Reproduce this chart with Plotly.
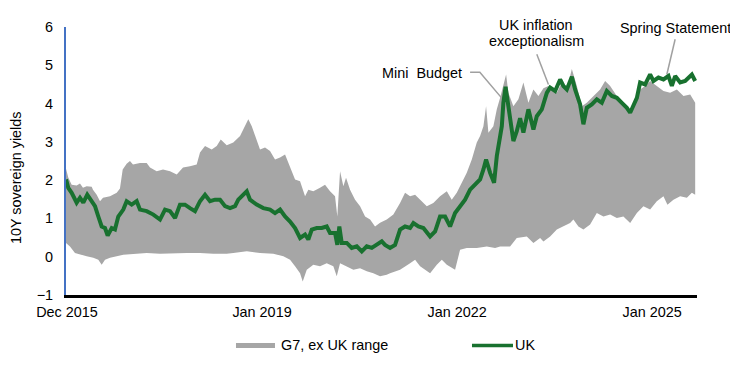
import plotly.graph_objects as go
import pandas as pd

# ---- data (decimal years, yields in %) ----
upper_t = [2015.985, 2016.02, 2016.072, 2016.149, 2016.2, 2016.246, 2016.303, 2016.38, 2016.4, 2016.457,
           2016.508, 2016.554, 2016.662, 2016.765, 2016.815, 2016.857, 2016.918, 2016.969, 2017.015, 2017.123,
           2017.226, 2017.277, 2017.38, 2017.477, 2017.585, 2017.688, 2017.785, 2017.892, 2017.995, 2018.046,
           2018.123, 2018.226, 2018.303, 2018.365, 2018.457, 2018.558, 2018.662, 2018.738, 2018.789, 2018.842,
           2018.892, 2018.969, 2019.046, 2019.123, 2019.2, 2019.277, 2019.354, 2019.431, 2019.508, 2019.585,
           2019.662, 2019.712, 2019.789, 2019.892, 2019.969, 2020.046, 2020.123, 2020.158, 2020.2, 2020.251,
           2020.292, 2020.354, 2020.431, 2020.508, 2020.585, 2020.662, 2020.738, 2020.815, 2020.918, 2021.02,
           2021.123, 2021.2, 2021.277, 2021.354, 2021.431, 2021.534, 2021.635, 2021.738, 2021.842, 2021.918,
           2021.995, 2022.072, 2022.149, 2022.226, 2022.303, 2022.354, 2022.405, 2022.446, 2022.482, 2022.558,
           2022.611, 2022.662, 2022.712, 2022.754, 2022.789, 2022.866, 2022.943, 2023.02, 2023.097, 2023.174,
           2023.251, 2023.328, 2023.405, 2023.431, 2023.534, 2023.611, 2023.688, 2023.765, 2023.842, 2023.918,
           2023.995, 2024.097, 2024.2, 2024.277, 2024.354, 2024.457, 2024.558, 2024.662, 2024.738, 2024.815,
           2024.892, 2024.969, 2025.072, 2025.174, 2025.277, 2025.38, 2025.482, 2025.585, 2025.662]
upper_v = [2.3, 2.07, 1.88, 1.86, 1.91, 1.8, 1.84, 1.83, 1.75, 1.62,
           1.45, 1.54, 1.58, 1.67, 1.78, 2.28, 2.43, 2.5, 2.41, 2.45,
           2.45, 2.33, 2.23, 2.28, 2.23, 2.15, 2.33, 2.36, 2.41, 2.72,
           2.89, 2.8, 2.89, 3.06, 2.91, 2.98, 3.15, 3.41, 3.59, 3.41,
           3.19, 2.8, 2.85, 2.76, 2.54, 2.59, 2.67, 2.36, 2.02, 1.97,
           1.58, 1.75, 1.71, 1.8, 1.88, 1.71, 1.58, 1.05, 2.23, 1.84,
           2.06, 1.75, 1.49, 1.32, 1.05, 0.97, 0.79, 0.89, 0.97, 1.1,
           1.4, 1.67, 1.58, 1.62, 1.49, 1.32, 1.4, 1.58, 1.71, 1.49,
           1.67, 1.93, 2.19, 2.54, 2.98, 3.15, 3.41, 3.93, 3.24, 3.41,
           3.85, 4.15, 4.46, 4.76, 4.28, 3.93, 4.11, 4.55, 4.02, 4.37,
           4.2, 4.4, 4.46, 4.37, 4.28, 4.55, 4.37, 4.9, 4.46, 3.93,
           4.02, 4.2, 4.37, 4.59, 4.46, 4.2, 3.98, 3.8, 4.11, 4.37,
           4.46, 4.59, 4.46, 4.33, 4.28, 4.37, 4.2, 4.24, 4.02]

lower_t = [2015.985, 2016.046, 2016.123, 2016.2, 2016.303, 2016.405, 2016.482, 2016.534, 2016.585, 2016.662,
           2016.765, 2016.866, 2017.02, 2017.226, 2017.431, 2017.635, 2017.842, 2018.046, 2018.251, 2018.457,
           2018.558, 2018.765, 2018.969, 2019.174, 2019.328, 2019.431, 2019.508, 2019.585, 2019.626, 2019.688,
           2019.789, 2019.892, 2019.995, 2020.097, 2020.149, 2020.2, 2020.303, 2020.405, 2020.508, 2020.611,
           2020.712, 2020.815, 2020.918, 2020.969, 2021.123, 2021.277, 2021.354, 2021.431, 2021.585, 2021.688,
           2021.765, 2021.842, 2021.969, 2022.046, 2022.149, 2022.303, 2022.457, 2022.585, 2022.662, 2022.815,
           2022.918, 2023.072, 2023.174, 2023.277, 2023.328, 2023.431, 2023.534, 2023.635, 2023.738, 2023.789,
           2023.866, 2023.943, 2024.046, 2024.149, 2024.251, 2024.354, 2024.457, 2024.558, 2024.662, 2024.765,
           2024.866, 2024.969, 2025.072, 2025.174, 2025.235, 2025.328, 2025.431, 2025.534, 2025.611, 2025.662]
lower_v = [0.36, 0.27, 0.1, 0.05, 0.01, -0.03, -0.08, -0.21, -0.08, -0.03,
           0.01, 0.05, 0.08, 0.1, 0.08, 0.08, 0.1, 0.1, 0.08, 0.08,
           0.1, 0.14, 0.1, 0.08, 0.01, -0.08, -0.25, -0.43, -0.65, -0.34,
           -0.21, -0.25, -0.17, -0.25, -0.51, -0.17, -0.25, -0.34, -0.3, -0.38,
           -0.43, -0.51, -0.47, -0.43, -0.34, -0.17, -0.08, -0.25, -0.43, -0.21,
           -0.08, -0.21, -0.34, 0.18, 0.23, 0.23, 0.27, 0.23, 0.27, 0.27,
           0.49, 0.53, 0.36, 0.49, 0.4, 0.53, 0.71, 0.79, 0.88, 0.97,
           0.79, 0.71, 0.84, 1.14, 1.05, 1.1, 1.01, 1.05, 0.88, 1.14,
           1.32, 1.23, 1.45, 1.58, 1.36, 1.49, 1.58, 1.54, 1.67, 1.62]

uk_t = [2015.985, 2016.02, 2016.072, 2016.149, 2016.2, 2016.251, 2016.312, 2016.38, 2016.431, 2016.482,
        2016.534, 2016.585, 2016.626, 2016.688, 2016.738, 2016.789, 2016.866, 2016.918, 2016.995, 2017.072,
        2017.123, 2017.226, 2017.328, 2017.431, 2017.508, 2017.585, 2017.662, 2017.738, 2017.815, 2017.892,
        2017.969, 2018.046, 2018.123, 2018.2, 2018.277, 2018.354, 2018.431, 2018.508, 2018.585, 2018.635,
        2018.712, 2018.765, 2018.815, 2018.918, 2019.02, 2019.123, 2019.2, 2019.277, 2019.354, 2019.431,
        2019.508, 2019.585, 2019.662, 2019.712, 2019.765, 2019.842, 2019.918, 2019.995, 2020.046, 2020.123,
        2020.158, 2020.189, 2020.226, 2020.303, 2020.38, 2020.457, 2020.534, 2020.611, 2020.688, 2020.765,
        2020.842, 2020.892, 2020.969, 2021.046, 2021.123, 2021.2, 2021.277, 2021.328, 2021.405, 2021.482,
        2021.585, 2021.662, 2021.738, 2021.815, 2021.892, 2021.969, 2022.046, 2022.123, 2022.2, 2022.277,
        2022.354, 2022.405, 2022.446, 2022.508, 2022.569, 2022.611, 2022.651, 2022.688, 2022.712, 2022.746,
        2022.789, 2022.826, 2022.866, 2022.918, 2022.969, 2023.02, 2023.097, 2023.174, 2023.226, 2023.303,
        2023.38, 2023.431, 2023.508, 2023.585, 2023.635, 2023.688, 2023.765, 2023.815, 2023.892, 2023.943,
        2023.995, 2024.072, 2024.149, 2024.226, 2024.303, 2024.38, 2024.457, 2024.534, 2024.611, 2024.662,
        2024.712, 2024.765, 2024.815, 2024.892, 2024.969, 2025.02, 2025.097, 2025.174, 2025.251, 2025.303,
        2025.354, 2025.431, 2025.508, 2025.558, 2025.611, 2025.662]
uk_v = [2.02, 1.8, 1.67, 1.41, 1.54, 1.41, 1.62, 1.45, 1.32, 1.05,
        0.79, 0.75, 0.55, 0.75, 0.71, 1.05, 1.23, 1.45, 1.36, 1.45,
        1.23, 1.19, 1.1, 0.97, 1.23, 1.19, 1.01, 1.36, 1.36, 1.27,
        1.19, 1.45, 1.62, 1.45, 1.49, 1.49, 1.32, 1.27, 1.32, 1.49,
        1.62, 1.71, 1.49, 1.36, 1.27, 1.23, 1.14, 1.23, 1.05, 0.92,
        0.75, 0.49, 0.58, 0.45, 0.71, 0.75, 0.75, 0.79, 0.62, 0.62,
        0.31, 0.79, 0.36, 0.36, 0.23, 0.27, 0.14, 0.27, 0.23, 0.31,
        0.4, 0.31, 0.23, 0.31, 0.71, 0.79, 0.75, 0.88, 0.79, 0.75,
        0.53, 0.66, 1.05, 1.05, 0.79, 1.14, 1.32, 1.49, 1.75, 1.88,
        2.02, 2.28, 2.54, 2.19, 1.93, 2.63, 3.06, 3.41, 4.02, 4.44,
        3.93, 3.41, 3.02, 3.28, 3.62, 3.24, 3.85, 3.32, 3.67, 3.85,
        4.28, 4.42, 4.33, 4.63, 4.46, 4.37, 4.7, 4.37, 3.98, 3.46,
        3.89, 3.98, 4.11, 4.02, 4.33, 4.2, 4.15, 4.02, 3.89, 3.76,
        3.93, 4.15, 4.55, 4.5, 4.76, 4.59, 4.68, 4.63, 4.72, 4.46,
        4.72, 4.55, 4.59, 4.68, 4.76, 4.59]

tick_years = [2016.0, 2019.0, 2022.0, 2025.0]
tick_text = ["Dec 2015", "Jan 2019", "Jan 2022", "Jan 2025"]
series_names = ["G7, ex UK range", "UK"]
y_title = "10Y sovereign yields"

# annotation texts: (text, x year, y value, xanchor, pixel shift up)
notes = [("Mini  Budget", 2022.1, 4.81, "right", 0),
         ("UK inflation", 2023.218, 5.64, "center", 15.7),
         ("exceptionalism", 2023.218, 5.64, "center", 0),
         ("Spring Statement", 2025.362, 5.97, "center", 0)]
# connector polylines (year, value)
connectors = [([2022.2, 2022.35, 2022.723], [4.82, 4.82, 4.07]),
              ([2023.226, 2023.405], [5.29, 4.5]),
              ([2025.354, 2025.226], [5.68, 4.76])]


def to_date(ts):
    base = pd.Timestamp("2016-01-01")
    return [base + pd.Timedelta(days=(t - 2016.0) * 365.25) for t in ts]


GREY = "#A6A6A6"
GREEN = "#18712F"
FONT = "Liberation Sans, Arial, sans-serif"
FS = 14.4

fig = go.Figure()
fig.add_trace(go.Scatter(
    x=to_date(upper_t + lower_t[::-1]), y=upper_v + lower_v[::-1],
    fill="toself", fillcolor=GREY, mode="lines", line=dict(width=0, color=GREY),
    name=series_names[0], hoverinfo="skip", showlegend=False))
for cx, cy in connectors:
    fig.add_trace(go.Scatter(x=to_date(cx), y=cy, mode="lines",
                             line=dict(color="#A0A0A0", width=1.5),
                             showlegend=False, hoverinfo="skip", cliponaxis=False))
fig.add_trace(go.Scatter(x=to_date(uk_t), y=uk_v, mode="lines",
                         line=dict(color=GREEN, width=4), name=series_names[1],
                         showlegend=False))

for text, xv, yv, anchor, shift in notes:
    fig.add_annotation(x=to_date([xv])[0], y=yv, xref="x", yref="y", text=text,
                       showarrow=False, xanchor=anchor, yanchor="middle", yshift=shift,
                       font=dict(family=FONT, size=FS, color="#000000"))

# y-axis title
fig.add_annotation(x=-0.0792, y=0.4366, xref="paper", yref="paper", text=y_title,
                   textangle=-90, showarrow=False, xanchor="center", yanchor="middle",
                   font=dict(family=FONT, size=FS, color="#000000"))

# custom legend (paper coordinates, below plot)
LEG_Y = -0.1884
fig.add_shape(type="rect", xref="paper", yref="paper", x0=0.2694, x1=0.3312,
              y0=LEG_Y - 0.0095, y1=LEG_Y + 0.0095, fillcolor=GREY, line=dict(width=0))
fig.add_annotation(x=0.3375, y=LEG_Y, xref="paper", yref="paper", text=series_names[0],
                   showarrow=False, xanchor="left", yanchor="middle",
                   font=dict(family=FONT, size=FS, color="#000000"))
fig.add_shape(type="line", xref="paper", yref="paper", x0=0.6434, x1=0.7084,
              y0=LEG_Y, y1=LEG_Y, line=dict(color=GREEN, width=3.5))
fig.add_annotation(x=0.7085, y=LEG_Y, xref="paper", yref="paper", text=series_names[1],
                   showarrow=False, xanchor="left", yanchor="middle",
                   font=dict(family=FONT, size=FS, color="#000000"))

fig.update_layout(
    width=730, height=361,
    margin=dict(l=58, r=41, t=19, b=74, autoexpand=False),
    paper_bgcolor="white", plot_bgcolor="white",
    font=dict(family=FONT, size=FS, color="#000000"),
    showlegend=False,
)
fig.update_xaxes(
    type="date", automargin=False,
    range=to_date([2015.985, 2025.69]),
    tickvals=to_date(tick_years), ticktext=tick_text,
    showgrid=False, zeroline=False, showline=True, linecolor="#000000", linewidth=2.5,
    ticks="", tickfont=dict(size=FS), ticklabelstandoff=2)
fig.update_yaxes(
    range=[-1, 6], dtick=1, tick0=0, automargin=False,
    showgrid=False, zeroline=False, showline=True, linecolor="#4472C4", linewidth=2,
    ticks="", tickfont=dict(size=FS), ticklabelstandoff=8)

fig.write_html("out.html")
